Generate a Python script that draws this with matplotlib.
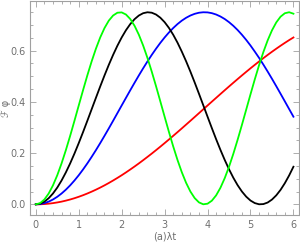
import matplotlib
matplotlib.use("Agg")
import matplotlib.pyplot as plt
from matplotlib.ticker import MultipleLocator, FormatStrFormatter

# time axis (lambda t), 0 .. 6 in 0.1 steps
t = [0.0, 0.1, 0.2, 0.3, 0.4, 0.5, 0.6, 0.7, 0.8, 0.9,
     1.0, 1.1, 1.2, 1.3, 1.4, 1.5, 1.6, 1.7, 1.8, 1.9,
     2.0, 2.1, 2.2, 2.3, 2.4, 2.5, 2.6, 2.7, 2.8, 2.9,
     3.0, 3.1, 3.2, 3.3, 3.4, 3.5, 3.6, 3.7, 3.8, 3.9,
     4.0, 4.1, 4.2, 4.3, 4.4, 4.5, 4.6, 4.7, 4.8, 4.9,
     5.0, 5.1, 5.2, 5.3, 5.4, 5.5, 5.6, 5.7, 5.8, 5.9, 6.0]

# values
red = [0.0, 0.0003, 0.0012, 0.0027, 0.0048, 0.0075, 0.0107, 0.0146, 0.0190, 0.0240,
       0.0296, 0.0357, 0.0424, 0.0496, 0.0573, 0.0655, 0.0742, 0.0834, 0.0931, 0.1032,
       0.1137, 0.1247, 0.1361, 0.1478, 0.1599, 0.1724, 0.1852, 0.1982, 0.2116, 0.2252,
       0.2391, 0.2532, 0.2675, 0.2819, 0.2965, 0.3113, 0.3261, 0.3410, 0.3560, 0.3710,
       0.3860, 0.4009, 0.4158, 0.4307, 0.4455, 0.4602, 0.4747, 0.4891, 0.5033, 0.5173,
       0.5311, 0.5446, 0.5578, 0.5708, 0.5834, 0.5957, 0.6076, 0.6192, 0.6304, 0.6412, 0.6515]
blue = [0.0, 0.0012, 0.0048, 0.0107, 0.0190, 0.0296, 0.0424, 0.0573, 0.0742, 0.0931,
        0.1137, 0.1361, 0.1599, 0.1852, 0.2116, 0.2391, 0.2675, 0.2965, 0.3261, 0.3560,
        0.3860, 0.4158, 0.4455, 0.4747, 0.5033, 0.5311, 0.5578, 0.5834, 0.6076, 0.6304,
        0.6515, 0.6709, 0.6883, 0.7038, 0.7172, 0.7283, 0.7372, 0.7438, 0.7481, 0.7499,
        0.7494, 0.7464, 0.7411, 0.7334, 0.7235, 0.7113, 0.6970, 0.6806, 0.6622, 0.6420,
        0.6201, 0.5964, 0.5718, 0.5456, 0.5184, 0.4903, 0.4614, 0.4319, 0.4021, 0.3721, 0.3422]
black = [0.0, 0.0027, 0.0107, 0.0240, 0.0424, 0.0655, 0.0931, 0.1247, 0.1599, 0.1982,
         0.2391, 0.2819, 0.3261, 0.3710, 0.4158, 0.4602, 0.5033, 0.5446, 0.5834, 0.6192,
         0.6515, 0.6799, 0.7038, 0.7230, 0.7372, 0.7462, 0.7499, 0.7482, 0.7411, 0.7287,
         0.7113, 0.6890, 0.6622, 0.6313, 0.5964, 0.5588, 0.5184, 0.4759, 0.4319, 0.3871,
         0.3422, 0.2977, 0.2543, 0.2127, 0.1734, 0.1370, 0.1040, 0.0749, 0.0502, 0.0301,
         0.0149, 0.0050, 0.0003, 0.0011, 0.0072, 0.0187, 0.0352, 0.0566, 0.0827, 0.1129, 0.1469]
green = [0.0, 0.0048, 0.0190, 0.0424, 0.0742, 0.1137, 0.1599, 0.2116, 0.2675, 0.3261,
         0.3860, 0.4455, 0.5033, 0.5578, 0.6076, 0.6515, 0.6883, 0.7172, 0.7372, 0.7481,
         0.7494, 0.7411, 0.7235, 0.6970, 0.6622, 0.6201, 0.5718, 0.5184, 0.4614, 0.4021,
         0.3422, 0.2831, 0.2263, 0.1734, 0.1256, 0.0842, 0.0502, 0.0245, 0.0077, 0.0003,
         0.0026, 0.0143, 0.0352, 0.0648, 0.1024, 0.1469, 0.1972, 0.2521, 0.3101, 0.3698,
         0.4296, 0.4880, 0.5435, 0.5947, 0.6403, 0.6792, 0.7102, 0.7327, 0.7461, 0.7500, 0.7443]

frame_col = "#a0a0a0"
label_col = "#707070"

fig = plt.figure(figsize=(3.0, 2.42), dpi=100)
ax = fig.add_axes([0.10, 0.11, 0.896, 0.886])

lw = 1.3
for ys, c in [(red, "#ff0000"), (blue, "#0000ff"), (black, "#000000"), (green, "#00ff00")]:
    ax.plot(t, ys, color=c, lw=lw, solid_joinstyle="round")

ax.set_xlim(-0.135, 6.125)
ax.set_ylim(-0.043, 0.794)

ax.xaxis.set_major_locator(MultipleLocator(1))
ax.xaxis.set_minor_locator(MultipleLocator(0.2))
ax.yaxis.set_major_locator(MultipleLocator(0.2))
ax.yaxis.set_minor_locator(MultipleLocator(0.05))
ax.yaxis.set_major_formatter(FormatStrFormatter("%.1f"))

for s in ax.spines.values():
    s.set_color(frame_col)
    s.set_linewidth(0.8)

ax.tick_params(which="both", direction="in", top=True, right=True,
               color=frame_col, width=0.6, labelcolor=label_col, labelsize=7)
ax.tick_params(which="major", length=4, pad=3)
ax.tick_params(which="minor", length=2)

ax.set_xlabel("(a)λt", fontsize=7, color=label_col, va="center")
ax.xaxis.set_label_coords(0.5, -0.10)
ax.set_ylabel("ℱ φ", fontsize=7, color=label_col, va="center")
ax.yaxis.set_label_coords(-0.088, 0.5)

fig.savefig("out.png", dpi=100)
